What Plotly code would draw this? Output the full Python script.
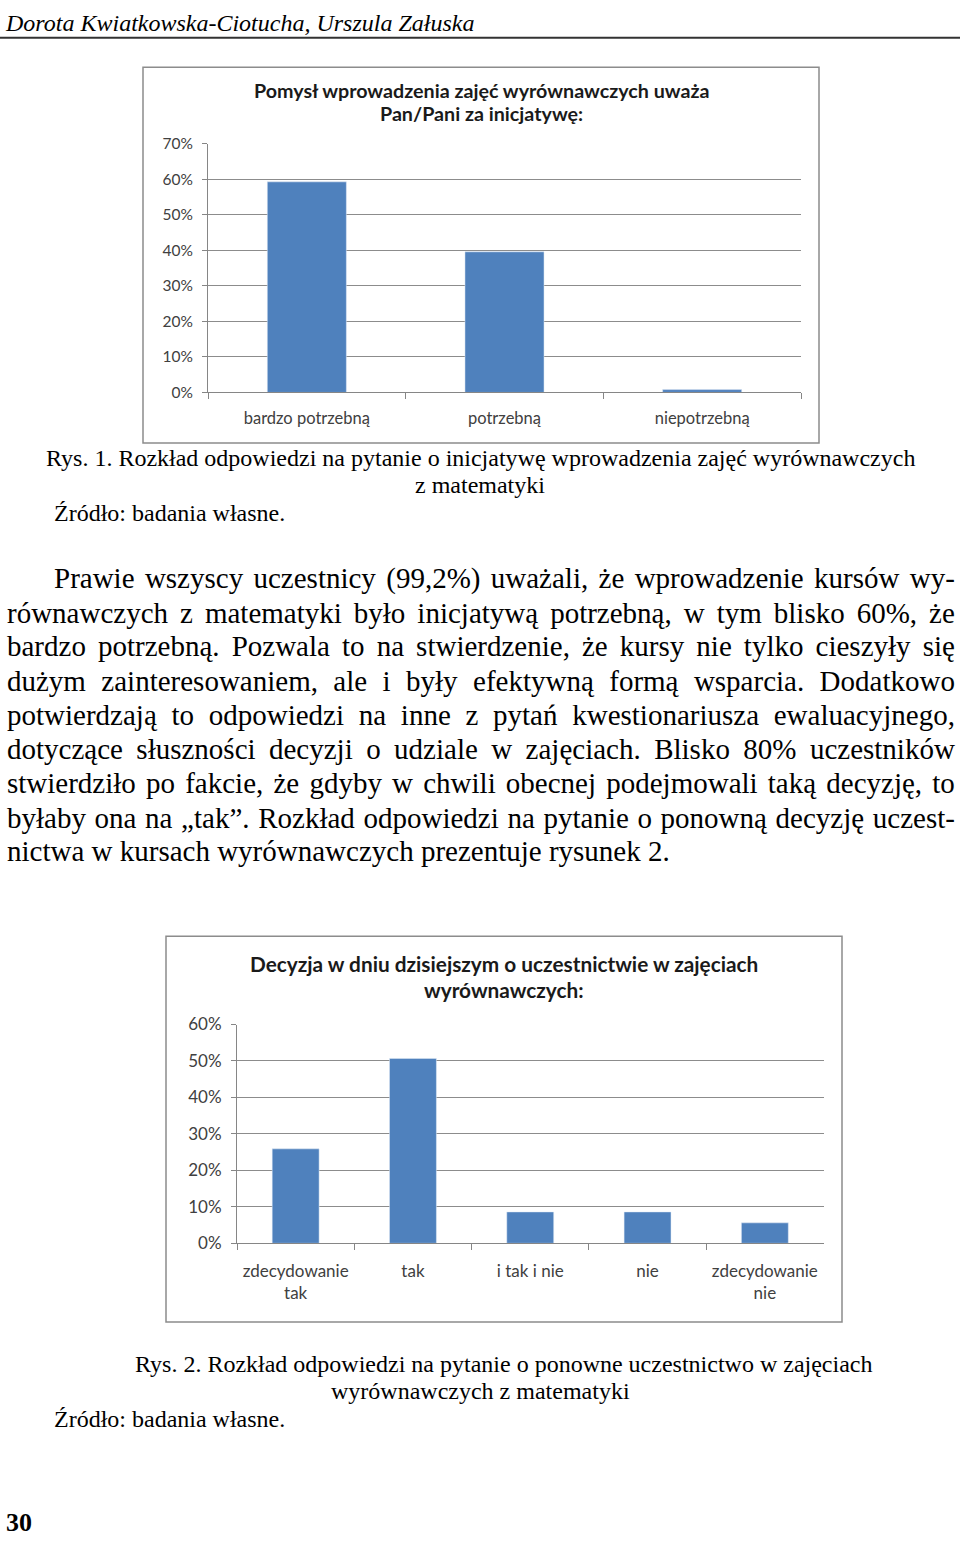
import plotly.graph_objects as go

# ---------------- data ----------------
cats1 = ["bardzo potrzebną", "potrzebną", "niepotrzebną"]
vals1 = [59.3, 39.6, 0.8]
title1 = ["Pomysł wprowadzenia zajęć wyrównawczych uważa", "Pan/Pani za inicjatywę:"]

cats2 = ["zdecydowanie<br>tak", "tak", "i tak i nie", "nie", "zdecydowanie<br>nie"]
vals2 = [25.9, 50.7, 8.6, 8.6, 5.6]
title2 = ["Decyzja w dniu dzisiejszym o uczestnictwie w zajęciach", "wyrównawczych:"]

header = "Dorota Kwiatkowska-Ciotucha, Urszula Załuska"
caption1 = ["Rys. 1. Rozkład odpowiedzi na pytanie o inicjatywę wprowadzenia zajęć wyrównawczych",
            "z matematyki"]
caption2 = ["Rys. 2. Rozkład odpowiedzi na pytanie o ponowne uczestnictwo w zajęciach",
            "wyrównawczych z matematyki"]
source = "Źródło: badania własne."
body = [
    "Prawie wszyscy uczestnicy (99,2%) uważali, że wprowadzenie kursów wy-",
    "równawczych z matematyki było inicjatywą potrzebną, w tym blisko 60%, że",
    "bardzo potrzebną. Pozwala to na stwierdzenie, że kursy nie tylko cieszyły się",
    "dużym zainteresowaniem, ale i były efektywną formą wsparcia. Dodatkowo",
    "potwierdzają to odpowiedzi na inne z pytań kwestionariusza ewaluacyjnego,",
    "dotyczące słuszności decyzji o udziale w zajęciach. Blisko 80% uczestników",
    "stwierdziło po fakcie, że gdyby w chwili obecnej podejmowali taką decyzję, to",
    "byłaby ona na „tak”. Rozkład odpowiedzi na pytanie o ponowną decyzję uczest-",
    "nictwa w kursach wyrównawczych prezentuje rysunek 2.",
]
page_no = "30"

# ---------------- helpers ----------------
W, H = 960, 1542
def px(x):
    return x / W
def py(y):
    return 1 - y / H

# Times / Liberation Serif advance widths (1/1000 em)
TW = dict(a=444, b=500, c=444, d=500, e=444, f=333, g=500, h=500, i=278, j=278, k=500, l=278,
          m=778, n=500, o=500, p=500, q=500, r=333, s=389, t=278, u=500, v=500, w=722, x=500,
          y=500, z=444, A=722, B=667, C=667, D=722, E=611, F=556, G=722, H=722, I=333, J=389,
          K=722, L=611, M=889, N=722, O=722, P=556, Q=722, R=667, S=556, T=611, U=722, V=722,
          W=944, X=722, Y=722, Z=611)
TW.update({" ": 250, ".": 250, ",": 250, ":": 278, ";": 278, "(": 333, ")": 333, "%": 833,
           "-": 333, "„": 444, "”": 444})
for d in "0123456789":
    TW[d] = 500
PL = {"ą": "a", "ć": "c", "ę": "e", "ł": "l", "ń": "n", "ó": "o", "ś": "s", "ź": "z", "ż": "z",
      "Ź": "Z", "Ż": "Z", "Ś": "S", "Ł": "L"}

def text_width(s, size):
    tot = 0
    for ch in s:
        ch = PL.get(ch, ch)
        tot += TW.get(ch, 500)
    return tot / 1000 * size

SERIF = "Liberation Serif"
SANS = "Lato"
BODY_SIZE = 29
BAR_COLOR = "#4f81bd"
AXIS_COLOR = "#868686"
GRID_COLOR = "#8c8c8c"
TICK_COLOR = "#404040"

fig = go.Figure()
fig.add_trace(go.Bar(x=cats1, y=vals1, marker_color=BAR_COLOR, xaxis="x", yaxis="y",
                     showlegend=False))
fig.add_trace(go.Bar(x=cats2, y=vals2, marker_color=BAR_COLOR, xaxis="x2", yaxis="y2",
                     showlegend=False))

def xax(size, standoff):
    return dict(type="category", showline=True, linecolor=AXIS_COLOR, linewidth=1,
                ticks="outside", tickson="boundaries", ticklen=6, tickcolor=AXIS_COLOR,
                showgrid=False, tickfont=dict(family=SANS, size=size, color=TICK_COLOR),
                fixedrange=True, ticklabelstandoff=standoff)

def yax(size):
    return dict(showline=True, linecolor=AXIS_COLOR, linewidth=1, ticks="outside", ticklen=5,
                tickcolor=AXIS_COLOR, showgrid=True, gridcolor=GRID_COLOR, gridwidth=1,
                zeroline=False, ticksuffix="%", dtick=10,
                tickfont=dict(family=SANS, size=size, color=TICK_COLOR), fixedrange=True,
                ticklabelstandoff=6)

fig.update_layout(
    width=W, height=H, margin=dict(l=0, r=0, t=0, b=0),
    paper_bgcolor="white", plot_bgcolor="white", bargap=0.6,
    xaxis=dict(domain=[px(208), px(801)], anchor="y", **xax(16.5, 11)),
    yaxis=dict(domain=[py(386.7), py(134.7)], anchor="x", range=[0, 70], **yax(15.5)),
    xaxis2=dict(domain=[px(237), px(823.5)], anchor="y2", **xax(17, 12)),
    yaxis2=dict(domain=[py(1249.3), py(1027.5)], anchor="x2", range=[0, 60], **yax(17)),
)

shapes = [
    dict(type="line", xref="paper", yref="paper", x0=0, x1=1, y0=py(27), y1=py(27),
         line=dict(color="#333333", width=2)),
    dict(type="rect", xref="paper", yref="paper", x0=px(143), x1=px(819), y0=py(438), y1=py(57),
         line=dict(color="#8c8c8c", width=1.5)),
    dict(type="rect", xref="paper", yref="paper", x0=px(166), x1=px(842), y0=py(1329), y1=py(938),
         line=dict(color="#8c8c8c", width=1.5)),
]
fig.update_layout(shapes=shapes)

ann = []
def add(text, x, y, size, family=SERIF, xanchor="left", color="black"):
    ann.append(dict(text=text, x=px(x), y=py(y), xref="paper", yref="paper", showarrow=False,
                    xanchor=xanchor, yanchor="middle", font=dict(family=family, size=size,
                                                                  color=color)))

# header
add("<i>" + header + "</i>", 3, 12, 24)
# chart titles
add("<b>" + title1[0] + "</b>", 481, 81, 19.7, family=SANS, xanchor="center", color="#1a1a1a")
add("<b>" + title1[1] + "</b>", 481, 104, 19.7, family=SANS, xanchor="center", color="#1a1a1a")
add("<b>" + title2[0] + "</b>", 504, 966, 20.8, family=SANS, xanchor="center", color="#1a1a1a")
add("<b>" + title2[1] + "</b>", 504, 992, 20.8, family=SANS, xanchor="center", color="#1a1a1a")
# captions
add(caption1[0], 480, 453, 24, xanchor="center")
add(caption1[1], 480, 481, 24, xanchor="center")
add(source, 52, 509, 24)
add(caption2[0], 503.5, 1372, 24, xanchor="center")
add(caption2[1], 480, 1399, 24, xanchor="center")
add(source, 52, 1427, 24)
# body text, justified via word-spacing
LEFT, RIGHT, INDENT = 5, 953, 52
line_y = [575, 610, 644, 679, 714, 748, 783, 818, 852]
for i, (line, yy) in enumerate(zip(body, line_y)):
    x0 = INDENT if i == 0 else LEFT
    if i < len(body) - 1:
        nat = text_width(line, BODY_SIZE)
        nsp = line.count(" ")
        extra = (RIGHT - x0 - nat) / nsp if nsp else 0
        txt = '<span style="word-spacing:%.2fpx">%s</span>' % (extra, line)
    else:
        txt = line
    add(txt, x0, yy, BODY_SIZE)
# page number
add("<b>" + page_no + "</b>", 4, 1532, 26)

fig.update_layout(annotations=ann)
fig.write_html("out.html")
